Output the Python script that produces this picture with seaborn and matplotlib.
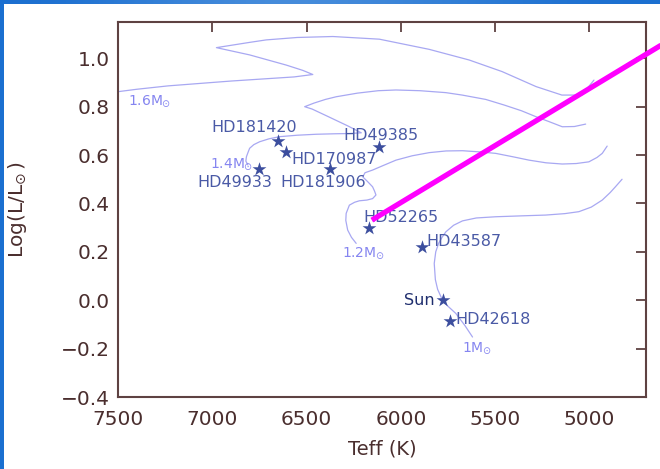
import numpy as np
import pandas as pd
import matplotlib
matplotlib.use("Agg")
import matplotlib.pyplot as plt
import seaborn as sns
from matplotlib.colors import LinearSegmentedColormap

# ---------------- data ----------------
star_names = ["HD181420", "HD170987", "HD49933", "HD181906", "HD49385",
              "HD52265", "HD43587", "Sun", "HD42618"]
star_teff = [6654, 6607, 6750, 6378, 6117, 6169, 5890, 5777, 5741]
star_logl = [0.659, 0.611, 0.541, 0.541, 0.632, 0.298, 0.221, 0.0, -0.087]

track_10_teff = [5620, 5660, 5708, 5750, 5779, 5805, 5817, 5823, 5815, 5800, 5780, 5761,
                 5720, 5673, 5600, 5497, 5350, 5232, 5130, 5056, 4990, 4932, 4890, 4862, 4827]
track_10_logl = [-0.152, -0.105, -0.055, -0.025, 0.0, 0.045, 0.085, 0.152, 0.200, 0.235, 0.262, 0.283,
                 0.310, 0.328, 0.340, 0.345, 0.349, 0.352, 0.358, 0.366, 0.385, 0.414, 0.445, 0.469, 0.500]

track_12_teff = [6237, 6262, 6282, 6292, 6290, 6273, 6245, 6220, 6180, 6150, 6132, 6140, 6150,
                 6176, 6202, 6190, 6150, 6090, 6026, 5940, 5850, 5760, 5673, 5580, 5497, 5400,
                 5320, 5230, 5144, 5070, 5003, 4960, 4932, 4906]
track_12_logl = [0.235, 0.260, 0.290, 0.330, 0.359, 0.393, 0.405, 0.411, 0.414, 0.420, 0.435, 0.452, 0.469,
                 0.490, 0.510, 0.527, 0.538, 0.558, 0.579, 0.597, 0.610, 0.617, 0.618, 0.613, 0.607, 0.592,
                 0.579, 0.568, 0.563, 0.565, 0.572, 0.590, 0.607, 0.637]

track_14_teff = [6811, 6822, 6819, 6810, 6802, 6780, 6749, 6700, 6643, 6550, 6449, 6350, 6273, 6210,
                 6280, 6380, 6470, 6510, 6460, 6400, 6343, 6230, 6120, 6026, 5898, 5761, 5675,
                 5550, 5453, 5360, 5285, 5210, 5144, 5080, 5020]
track_14_logl = [0.559, 0.575, 0.593, 0.612, 0.628, 0.643, 0.655, 0.667, 0.676, 0.682, 0.686, 0.688, 0.689, 0.692,
                 0.720, 0.757, 0.790, 0.800, 0.815, 0.830, 0.841, 0.856, 0.866, 0.869, 0.866, 0.858, 0.848,
                 0.830, 0.807, 0.783, 0.759, 0.737, 0.717, 0.718, 0.728]

track_16_teff = [7520, 7400, 7234, 6900, 6566, 6467, 6520, 6608, 6802, 6978, 6930, 6800, 6714,
                 6550, 6361, 6114, 5850, 5638, 5463, 5283, 5146, 5040, 4976]
track_16_logl = [0.860, 0.872, 0.886, 0.906, 0.923, 0.933, 0.950, 0.972, 1.014, 1.044, 1.050, 1.066, 1.076,
                 1.086, 1.090, 1.079, 1.037, 0.993, 0.945, 0.883, 0.848, 0.848, 0.910]

mass_labels = [r"1.6M$\!_\odot$", r"1.4M$\!_\odot$", r"1.2M$\!_\odot$", r"1M$\!_\odot$"]
mass_label_teff = [7445, 7012, 6310, 5675]
mass_label_logl = [0.807, 0.548, 0.182, -0.214]

line_teff = [6154, 4527]
line_logl = [0.331, 1.098]

x_ticks = [7500, 7000, 6500, 6000, 5500, 5000]
y_ticks = [-0.4, -0.2, 0.0, 0.2, 0.4, 0.6, 0.8, 1.0]

# ---------------- style ----------------
sns.set_style("white")
plt.rcParams["font.family"] = ["DejaVu Sans"]
plt.rcParams["mathtext.fontset"] = "dejavusans"

spine_col = "#5e4242"
text_col = "#4a2e2e"
track_col = "#a8a8f2"
mass_col = "#8585f0"
star_col = "#3c4e9e"
label_col = "#4a5aa6"
sun_col = "#1f2e6e"

fig = plt.figure(figsize=(6.6, 4.69), dpi=100)
fig.patch.set_facecolor("white")
ax = fig.add_axes([118 / 660, 1 - 397 / 469, 528 / 660, 375 / 469])

# tracks
for tt, ll in [(track_10_teff, track_10_logl), (track_12_teff, track_12_logl),
               (track_14_teff, track_14_logl), (track_16_teff, track_16_logl)]:
    df = pd.DataFrame({"teff": tt, "logl": ll})
    sns.lineplot(data=df, x="teff", y="logl", sort=False, estimator=None,
                 color=track_col, lw=0.9, ax=ax, zorder=2)

# stars
sdf = pd.DataFrame({"teff": star_teff, "logl": star_logl, "name": star_names})
sns.scatterplot(data=sdf, x="teff", y="logl", marker="*", s=110, color=star_col,
                linewidth=0, ax=ax, zorder=4)

# star labels (offsets in pixels)
offsets = {
    "HD181420": (-23, 13, "center"),
    "HD170987": (5, -7, "left"),
    "HD49933": (-25, -13, "center"),
    "HD181906": (-6, -13, "center"),
    "HD49385": (2, 12, "center"),
    "HD52265": (-6, 11, "left"),
    "HD43587": (5, 5, "left"),
    "Sun": (-8, 0, "right"),
    "HD42618": (6, 2, "left"),
}
for n, t, l in zip(star_names, star_teff, star_logl):
    dx, dy, ha = offsets[n]
    ax.annotate(n, (t, l), xytext=(dx, dy), textcoords="offset pixels",
                ha=ha, va="center", fontsize=11.5,
                color=sun_col if n == "Sun" else label_col, zorder=5)

# mass labels
for lab, t, l in zip(mass_labels, mass_label_teff, mass_label_logl):
    ax.text(t, l, lab, color=mass_col, fontsize=10, ha="left", va="baseline", zorder=3)

# magenta line
ax.plot(line_teff, line_logl, color="#ff00ff", lw=3.8, solid_capstyle="butt",
        clip_on=False, zorder=10)

ax.set_xlim(7500, 4700)
ax.set_ylim(-0.4, 1.15)
ax.set_xticks(x_ticks)
ax.set_yticks(y_ticks)
ax.tick_params(which="both", direction="in", top=True, right=True, length=7.5,
               width=1.3, color=spine_col, labelcolor=text_col, labelsize=14.5)
ax.tick_params(axis="x", pad=9)
ax.tick_params(axis="y", pad=6)
for sp in ax.spines.values():
    sp.set_color(spine_col)
    sp.set_linewidth(1.5)

ax.set_xlabel("Teff (K)", fontsize=14, color=text_col)
ax.set_ylabel(r"Log(L/L$\!_\odot$)", fontsize=14.5, color=text_col)
ax.xaxis.set_label_coords(0.5, -0.112)
ax.yaxis.set_label_coords(-0.168, 0.5)

# blue frame (top gradient band and left band)
grad = np.array([[0.0, 0.35, 0.6, 0.45, 0.2, 0.0]])
bax = fig.add_axes([0, 1 - 4 / 469, 1, 4 / 469])
cmap = LinearSegmentedColormap.from_list("b", ["#1b6fd0", "#6aa4e4"])
bax.imshow(grad, aspect="auto", cmap=cmap, vmin=0, vmax=1, interpolation="bicubic")
bax.axis("off")
lax = fig.add_axes([0, 0, 4 / 660, 1])
lax.set_facecolor("#1a6fd0")
lax.set_xticks([]); lax.set_yticks([])
for sp in lax.spines.values():
    sp.set_visible(False)

fig.savefig("out.png", dpi=100)
